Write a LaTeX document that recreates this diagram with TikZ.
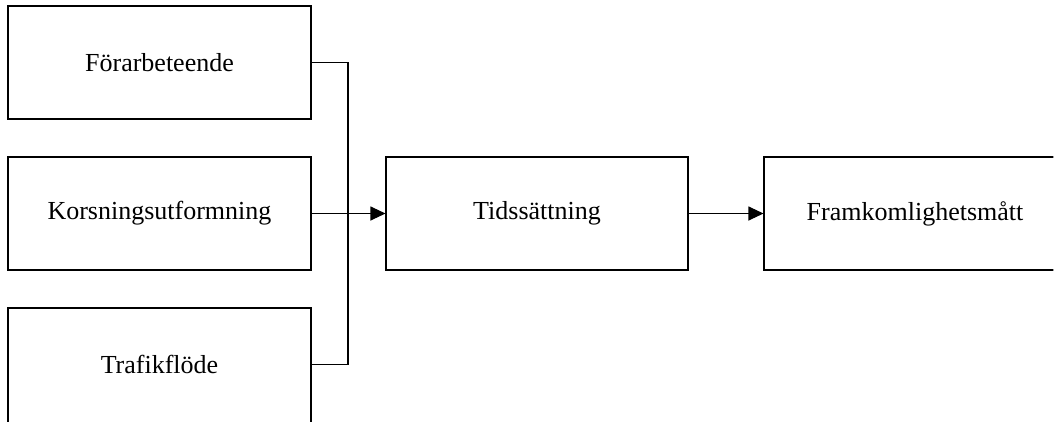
\documentclass[tikz,border=0pt]{standalone}
\usepackage{fontspec}
\setmainfont{Liberation Serif}
\usetikzlibrary{arrows.meta}
\begin{document}
\begin{tikzpicture}[x=1pt,y=-1pt,
  frame/.style={draw=black,line width=1.1pt,minimum width=303pt,minimum height=113pt,inner sep=0pt},
  label/.style={font=\fontsize{26}{30}\selectfont,inner sep=0pt},
  box/.style={frame,label},
  link/.style={draw=black,line width=1.1pt},
  tip/.style={-{Triangle[length=15pt,width=14pt]}}]
\useasboundingbox (0,0) rectangle (1054,421);
\clip (0,0) rectangle (1053.4,421);
% the lower input box and the output box run past the page edge
\node[frame,minimum height=116pt] (trafik) at (159.5,366) {};
\node[label] (trafiktext) at (159.5,364.5) {Trafikflöde};
\node[box] (forar) at (159.5,62.5) {Förarbeteende};
\node[box] (kors) at (159.5,213.5) {Korsningsutformning};
\node[box,minimum width=302pt] (tid) at (537,213.5) {Tidssättning};
\node[frame,minimum width=330pt] (fram) at (929,213.5) {};
\node[label] (framtext) at (915,213.5) {Framkomlighetsmått};
\coordinate (bus) at (348,0);
\draw[link] (forar.east) -- (forar.east -| bus) -- (trafiktext.east -| bus) -- (trafiktext.east -| trafik.east);
\draw[link,tip] (kors.east) -- (tid.west);
\draw[link,tip] (tid.east) -- (fram.west);
\end{tikzpicture}
\end{document}
